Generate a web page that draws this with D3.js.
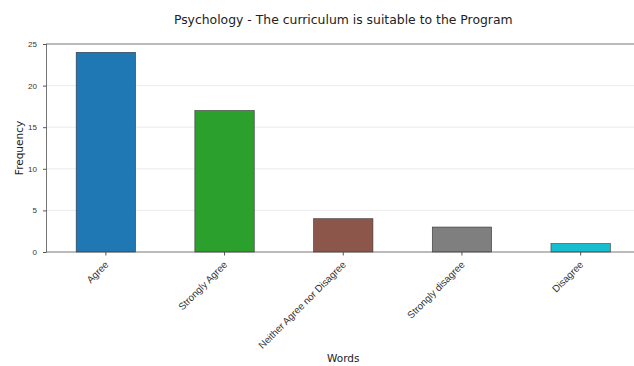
<!DOCTYPE html>
<html>
<head>
<meta charset="utf-8">
<script src="https://cdn.jsdelivr.net/npm/d3@7"></script>
<style>
  body { margin: 0; background: #fff; }
  svg { font-family: "DejaVu Sans", sans-serif; }
</style>
</head>
<body>
<svg width="634" height="366"></svg>
<script>
const svg = d3.select("svg");

const categories = ["Agree", "Strongly Agree", "Neither Agree nor Disagree", "Strongly disagree", "Disagree"];
const counts = [24, 17, 4, 3, 1];
const colors = ["#1f77b4", "#2ca02c", "#8c564b", "#7f7f7f", "#17becf"];
const yTicks = [0, 5, 10, 15, 20, 25];

const plotLeft = 46.5, plotRight = 640, plotTop = 44, plotBottom = 252;

const x = d3.scaleBand()
    .domain(categories)
    .range([plotLeft, plotRight])
    .paddingInner(0.5)
    .paddingOuter(0.25);

const y = d3.scaleLinear().domain([0, 25]).range([plotBottom, plotTop]);

// grid
svg.append("g")
    .selectAll("line")
    .data(yTicks.slice(1, -1))
    .enter()
    .append("line")
    .attr("x1", plotLeft).attr("x2", plotRight)
    .attr("y1", d => y(d)).attr("y2", d => y(d))
    .attr("stroke", "#e6e6e6")
    .attr("stroke-width", 0.8);

// bars
svg.append("g")
    .selectAll("rect")
    .data(categories)
    .enter()
    .append("rect")
    .attr("x", d => x(d))
    .attr("y", (d, i) => y(counts[i]))
    .attr("width", x.bandwidth())
    .attr("height", (d, i) => y(0) - y(counts[i]))
    .attr("fill", (d, i) => colors[i])
    .attr("stroke", "#333")
    .attr("stroke-width", 0.6);

// frame
svg.append("rect")
    .attr("x", plotLeft).attr("y", plotTop)
    .attr("width", plotRight - plotLeft).attr("height", plotBottom - plotTop)
    .attr("fill", "none")
    .attr("stroke", "#555")
    .attr("stroke-width", 0.8);

// y axis
const yAxis = svg.append("g")
    .attr("transform", `translate(${plotLeft},0)`)
    .call(d3.axisLeft(y).tickValues(yTicks).tickSize(3.5).tickPadding(6));
yAxis.select(".domain").remove();
yAxis.selectAll("line").attr("stroke", "#555");
yAxis.selectAll("text").attr("font-size", 8).attr("fill", "#333");

// x axis
const xAxis = svg.append("g")
    .attr("transform", `translate(0,${plotBottom})`)
    .call(d3.axisBottom(x).tickSize(3.5).tickPadding(2));
xAxis.select(".domain").remove();
xAxis.selectAll("line").attr("stroke", "#555");
xAxis.selectAll("text")
    .attr("font-size", 9.8)
    .attr("fill", "#333")
    .attr("text-anchor", "end")
    .attr("dy", "0.35em")
    .attr("transform", "translate(-3,7) rotate(-45)");

// labels
svg.append("text")
    .attr("x", (plotLeft + plotRight) / 2).attr("y", 24)
    .attr("text-anchor", "middle")
    .attr("font-size", 12.4)
    .attr("fill", "#222")
    .text("Psychology - The curriculum is suitable to the Program");

svg.append("text")
    .attr("x", (plotLeft + plotRight) / 2).attr("y", 362)
    .attr("text-anchor", "middle")
    .attr("font-size", 10.5)
    .attr("fill", "#222")
    .text("Words");

svg.append("text")
    .attr("transform", `translate(23,${(plotTop + plotBottom) / 2}) rotate(-90)`)
    .attr("text-anchor", "middle")
    .attr("font-size", 10.5)
    .attr("fill", "#222")
    .text("Frequency");
</script>
</body>
</html>
